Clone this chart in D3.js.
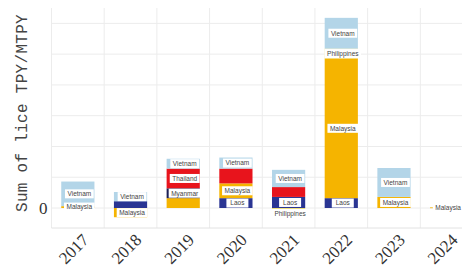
<!DOCTYPE html>
<html lang="en">
<head>
<script src="https://cdn.jsdelivr.net/npm/d3@7"></script>
<style>
  body { margin: 0; background: #fff; }
  .grid line { stroke: #ececec; stroke-width: 1; }
</style>
</head>
<body>
<svg id="chart" width="462" height="270"></svg>
<script>
// data (arbitrary units, one gridline = 50)
var years = ["2017", "2018", "2019", "2020", "2021", "2022", "2023", "2024"];
var countries = ["Laos", "Malaysia", "Myanmar", "Philippines", "Thailand", "Vietnam"];
var laos        = [0, 11, 0, 16, 18, 16, 0, 0];
var malaysia    = [3, -15, 16, 24, 0, 227, 18, 1];
var myanmar     = [0, 0, 16, 0, 0, 0, 0, 0];
var philippines = [0, 0, 0, 0, -8, 16, 0, 0];
var thailand    = [0, 0, 32, 24, 16, 0, 0, 0];
var vietnam     = [40, 15, 16, 18, 28, 50, 47, 0];
var colors = ["#2a3593", "#f5b400", "#1b1f55", "#eee07c", "#e8141c", "#b3d5e8"];
var yTicks = [0];
var hiddenLabels = ["2018 Laos", "2019 Malaysia", "2020 Thailand", "2021 Thailand"];

var svg = d3.select("#chart");

// build rows for d3.stack
var series = [laos, malaysia, myanmar, philippines, thailand, vietnam];
var rows = years.map(function(yr, i) {
    var r = { year: yr };
    countries.forEach(function(c, j) { r[c] = series[j][i]; });
    return r;
});

var stack = d3.stack().keys(countries).offset(d3.stackOffsetDiverging);
var stacked = stack(rows);

var x = d3.scaleBand().domain(years).range([51.5, 473])
    .paddingInner(0.37).paddingOuter(0.185);
var y = d3.scaleLinear().domain([-32.5, 325]).range([228, 8]);

var color = d3.scaleOrdinal().domain(countries).range(colors);

// gridlines
var grid = svg.append("g").attr("class", "grid");
grid.selectAll(".h").data(d3.range(0, 301, 50)).enter()
    .append("line")
    .attr("x1", 51.5).attr("x2", 473)
    .attr("y1", y).attr("y2", y);
grid.selectAll(".v").data(years.concat(["end"])).enter()
    .append("line")
    .attr("x1", function(d, i) { return 51.5 + i * x.step(); })
    .attr("x2", function(d, i) { return 51.5 + i * x.step(); })
    .attr("y1", 8).attr("y2", 228);
grid.append("line").attr("x1", 51.5).attr("x2", 473)
    .attr("y1", 228).attr("y2", 228).style("stroke", "#e2e2e2");

// bars
var layers = svg.append("g").selectAll("g")
    .data(stacked).enter()
    .append("g")
    .attr("fill", function(d) { return color(d.key); });

layers.selectAll("rect")
    .data(function(d) { return d; })
    .enter()
    .filter(function(d) { return d[1] !== d[0]; })
    .append("rect")
    .attr("x", function(d) { return x(d.data.year); })
    .attr("y", function(d) { return y(Math.max(d[0], d[1])); })
    .attr("width", x.bandwidth())
    .attr("height", function(d) { return Math.max(0.8, Math.abs(y(d[0]) - y(d[1]))); });

// segment labels in white boxes
var labelG = svg.append("g");
stacked.forEach(function(layer) {
    layer.forEach(function(d) {
        if (d[1] === d[0]) return;
        if (hiddenLabels.indexOf(d.data.year + " " + layer.key) >= 0) return;
        var cx = x(d.data.year) + x.bandwidth() / 2 + 1.5;
        var cy = (y(d[0]) + y(d[1])) / 2;
        if (d[1] <= 0 && layer.key == "Philippines") cy += 3; // sits under the bar
        var g = labelG.append("g");
        var box = g.append("rect").attr("fill", "#fff");
        var t = g.append("text")
            .attr("x", cx).attr("y", cy)
            .attr("dy", "0.35em")
            .attr("text-anchor", "middle")
            .style("font-family", "Liberation Sans, Arial, sans-serif")
            .style("font-size", "6.5px")
            .style("fill", "#444")
            .text(layer.key);
        var w = Math.max(t.node().getComputedTextLength() + 5, 22);
        box.attr("x", cx - w / 2).attr("y", cy - 4.5)
            .attr("width", w).attr("height", 9);
    });
});

// y axis (only the zero tick shows)
var yAxis = svg.append("g")
    .attr("transform", "translate(51.5,0)")
    .call(d3.axisLeft(y).tickValues(yTicks).tickSize(0).tickPadding(4));
yAxis.select(".domain").remove();
yAxis.selectAll("text")
    .style("font-family", "Liberation Serif, serif")
    .style("font-size", "17px")
    .style("fill", "#333");

svg.append("text")
    .attr("transform", "translate(27,113) rotate(-90)")
    .attr("text-anchor", "middle")
    .style("font-family", "Liberation Mono, monospace")
    .style("font-size", "16px")
    .style("letter-spacing", "0.3px")
    .style("fill", "#444")
    .text("Sum of lice TPY/MTPY");

// x axis
var xAxis = svg.append("g")
    .attr("transform", "translate(0,228)")
    .call(d3.axisBottom(x).tickSize(0).tickPadding(0));
xAxis.select(".domain").remove();
xAxis.selectAll("text")
    .attr("text-anchor", "end")
    .attr("dy", 0)
    .attr("y", 0)
    .attr("transform", "translate(12,13) rotate(-45)")
    .style("font-family", "Liberation Serif, serif")
    .style("font-size", "17px")
    .style("fill", "#333");
</script>
</body>
</html>
